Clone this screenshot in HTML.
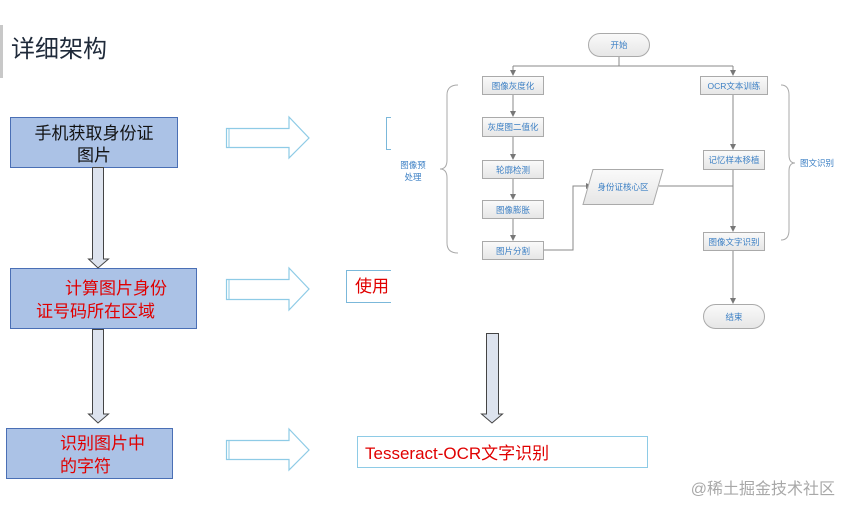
<!DOCTYPE html>
<html><head><meta charset="utf-8"><style>
html,body{margin:0;padding:0;background:#fff;}
svg{display:block;}
text{font-family:"Liberation Sans","Noto Sans CJK SC",sans-serif;}
</style></head><body>
<svg width="843" height="505" viewBox="0 0 843 505" xmlns="http://www.w3.org/2000/svg">
<defs>
<marker id="ah" markerWidth="6" markerHeight="6" refX="5" refY="3" orient="auto"><path d="M0,0 L6,3 L0,6z" fill="#777"/></marker>
<linearGradient id="bg" x1="0" y1="0" x2="0" y2="1"><stop offset="0" stop-color="#fafafa"/><stop offset="1" stop-color="#e6e6e6"/></linearGradient>
</defs>
<!-- title -->
<rect x="0" y="25" width="3" height="53" fill="#c8c8c8"/>
<text x="11" y="57" font-size="24" fill="#1f2a3a">详细架构</text>

<!-- left boxes -->
<rect x="10.5" y="117.5" width="167" height="50" fill="#abc2e6" stroke="#4a6fb5"/>
<text x="94" y="139" font-size="17" text-anchor="middle" fill="#111">手机获取身份证</text>
<text x="94" y="161" font-size="17" text-anchor="middle" fill="#111">图片</text>

<rect x="10.5" y="268.5" width="186" height="60" fill="#abc2e6" stroke="#4a6fb5"/>
<text x="65" y="294" font-size="17" fill="#e00000">计算图片身份</text>
<text x="36" y="317" font-size="17" fill="#e00000">证号码所在区域</text>

<rect x="6.5" y="428.5" width="166" height="50" fill="#abc2e6" stroke="#4a6fb5"/>
<text x="60" y="449" font-size="17" fill="#e00000">识别图片中</text>
<text x="60" y="472" font-size="17" fill="#e00000">的字符</text>

<!-- down arrows -->
<path d="M92.5,167.5 H103.5 V259 H108.5 L98,268 L88.5,259 H92.5 Z" fill="#dde3ee" stroke="#444"/>
<path d="M92.5,329.5 H103.5 V414 H108.5 L98,423 L88.5,414 H92.5 Z" fill="#dde3ee" stroke="#444"/>
<path d="M486.5,333.5 H498.5 V414 H502.5 L492,423 L481.5,414 H486.5 Z" fill="#dde3ee" stroke="#444"/>

<!-- right block arrows -->
<g fill="#fff" stroke="#8ecbe6" stroke-width="1.2">
<path d="M226.5,128.5 H289 V117 L309,138 L289,158 V147.5 H226.5 Z"/>
<path d="M226.5,279.5 H289 V268 L309,289 L289,310 V299.5 H226.5 Z"/>
<path d="M226.5,440.5 H289 V429 L309,450 L289,470 V459.5 H226.5 Z"/>
</g>
<g stroke="#8ecbe6"><line x1="229" y1="129" x2="229" y2="147"/><line x1="229" y1="280" x2="229" y2="299"/><line x1="229" y1="441" x2="229" y2="459"/></g>

<!-- partial boxes -->
<path d="M391,117.5 H386.5 V149.5 H391" fill="none" stroke="#7bb8da"/>
<path d="M391,270.5 H346.5 V302.5 H391" fill="#fff" stroke="#7bb8da"/>
<text x="355" y="292" font-size="17" fill="#e00000">使用</text>

<rect x="357.5" y="436.5" width="290" height="31" fill="#fff" stroke="#8ecbe6"/>
<text x="365" y="459" font-size="17" fill="#e00000">Tesseract-OCR文字识别</text>

<text x="835" y="494" font-size="16" text-anchor="end" fill="#a8a8a8">@稀土掘金技术社区</text>

<!-- flowchart -->
<g stroke="#888" stroke-width="1" fill="none">
<line x1="619" y1="56" x2="619" y2="66"/>
<line x1="513" y1="66" x2="733" y2="66"/>
<line x1="513" y1="66" x2="513" y2="75" marker-end="url(#ah)"/>
<line x1="733" y1="66" x2="733" y2="75" marker-end="url(#ah)"/>
<line x1="513" y1="94" x2="513" y2="116" marker-end="url(#ah)"/>
<line x1="513" y1="136" x2="513" y2="159" marker-end="url(#ah)"/>
<line x1="513" y1="178" x2="513" y2="199" marker-end="url(#ah)"/>
<line x1="513" y1="218" x2="513" y2="240" marker-end="url(#ah)"/>
<polyline points="543,250 573,250 573,186 591,186" marker-end="url(#ah)"/>
<line x1="659" y1="186" x2="733" y2="186"/>
<line x1="733" y1="94" x2="733" y2="149" marker-end="url(#ah)"/>
<line x1="733" y1="169" x2="733" y2="231" marker-end="url(#ah)"/>
<line x1="733" y1="250" x2="733" y2="303" marker-end="url(#ah)"/>
</g>
<g stroke="#aaa" fill="url(#bg)">
<rect x="588.5" y="33.5" width="61" height="23" rx="11.5"/>
<rect x="482.5" y="76.5" width="61" height="18"/>
<rect x="482.5" y="117.5" width="61" height="19"/>
<rect x="482.5" y="160.5" width="61" height="18"/>
<rect x="482.5" y="200.5" width="61" height="18"/>
<rect x="482.5" y="241.5" width="61" height="18"/>
<rect x="700.5" y="76.5" width="67" height="18"/>
<rect x="703.5" y="150.5" width="61" height="19"/>
<rect x="703.5" y="232.5" width="61" height="18"/>
<rect x="703.5" y="304.5" width="61" height="24" rx="12"/>
<polygon points="593,169.5 663,169.5 653,204.5 583,204.5"/>
</g>
<g font-size="8.5" fill="#3b7fc4" text-anchor="middle">
<text x="619" y="48">开始</text>
<text x="513" y="89">图像灰度化</text>
<text x="513" y="130">灰度图二值化</text>
<text x="513" y="173">轮廓检测</text>
<text x="513" y="213">图像膨胀</text>
<text x="513" y="254">图片分割</text>
<text x="734" y="89">OCR文本训练</text>
<text x="734" y="163">记忆样本移植</text>
<text x="734" y="245">图像文字识别</text>
<text x="734" y="320">结束</text>
<text x="623" y="190">身份证核心区</text>
<text x="413" y="168">图像预</text>
<text x="413" y="180">处理</text>
<text x="817" y="166">图文识别</text>
</g>
<g stroke="#aaa" fill="none">
<path d="M458,85 Q447,85 447,95 V160 Q447,169 440,169 Q447,169 447,178 V243 Q447,253 458,253"/>
<path d="M781,85 Q789,85 789,95 V155 Q789,163 795,163 Q789,163 789,171 V230 Q789,240 781,240"/>
</g>
</svg>
</body></html>
